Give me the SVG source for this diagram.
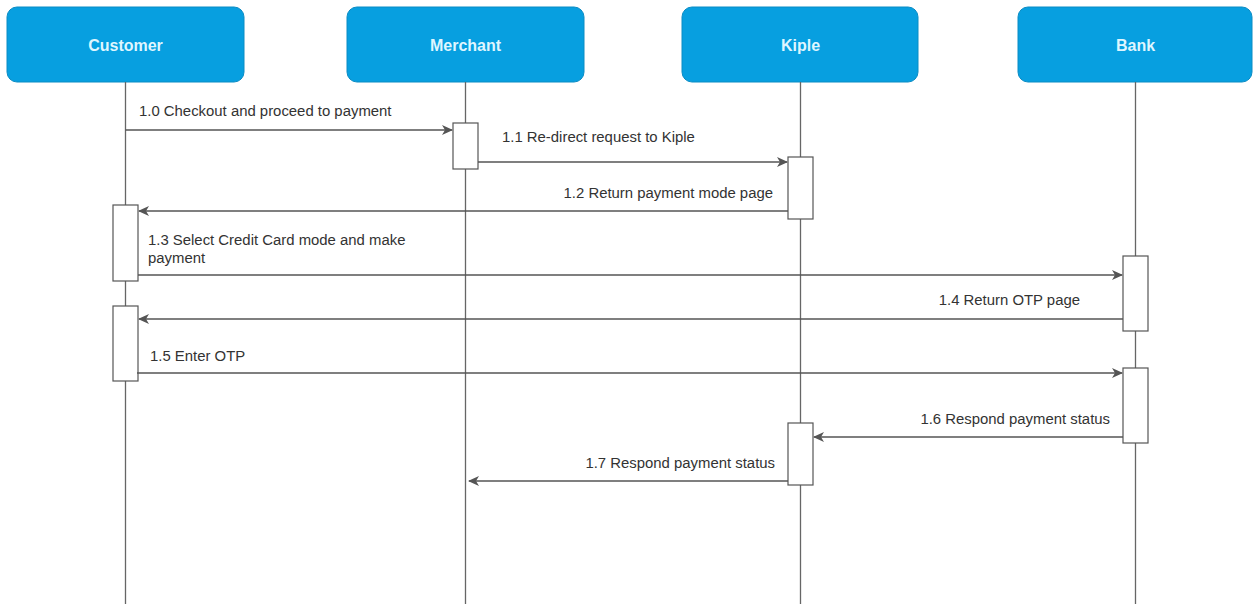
<svg xmlns="http://www.w3.org/2000/svg" width="1253" height="604" viewBox="0 0 1253 604">
<style>
.hdr{fill:#079fe0;stroke:#0b8cc4;stroke-width:1}
.hdrt{font-family:"Liberation Sans",Arial,sans-serif;font-size:16px;font-weight:bold;fill:#dff6ff;text-anchor:middle}
.life{stroke:#666;stroke-width:1.3;fill:none}
.act{fill:#fff;stroke:#555;stroke-width:1.2}
.msg{stroke:#555;stroke-width:1.3;fill:none;marker-end:url(#ah)}
.lbl{font-family:"Liberation Sans",Arial,sans-serif;font-size:14.9px;fill:#333}
.r{text-anchor:end}
</style>
<defs>
<marker id="ah" markerWidth="12" markerHeight="10" refX="10" refY="5" orient="auto" markerUnits="userSpaceOnUse">
<path d="M0,0 L11,5 L0,10 L3,5 Z" fill="#555"/>
</marker>
</defs>
<g id="customer">
<rect class="hdr" x="7" y="7" width="237" height="75" rx="10"/>
<text class="hdrt" x="125.5" y="51">Customer</text>
<line class="life" x1="125.5" y1="82" x2="125.5" y2="604"/>
<rect class="act" x="113" y="205" width="25" height="76"/>
<rect class="act" x="113" y="306" width="25" height="75"/>
</g>
<g id="merchant">
<rect class="hdr" x="347" y="7" width="237" height="75" rx="10"/>
<text class="hdrt" x="465.5" y="51">Merchant</text>
<line class="life" x1="465.5" y1="82" x2="465.5" y2="604"/>
<rect class="act" x="453" y="123" width="25" height="46"/>
</g>
<g id="kiple">
<rect class="hdr" x="682" y="7" width="236" height="75" rx="10"/>
<text class="hdrt" x="800.5" y="51">Kiple</text>
<line class="life" x1="800.5" y1="82" x2="800.5" y2="604"/>
<rect class="act" x="788" y="157" width="25" height="62"/>
<rect class="act" x="788" y="423" width="25" height="62"/>
</g>
<g id="bank">
<rect class="hdr" x="1018" y="7" width="234" height="75" rx="10"/>
<text class="hdrt" x="1135.5" y="51">Bank</text>
<line class="life" x1="1135.5" y1="82" x2="1135.5" y2="604"/>
<rect class="act" x="1123" y="256" width="25" height="75"/>
<rect class="act" x="1123" y="368" width="25" height="75"/>
</g>
<g id="connectors">
<line class="msg" x1="125.5" y1="130" x2="452" y2="130"/>
<text class="lbl" x="139" y="116">1.0 Checkout and proceed to payment</text>
<line class="msg" x1="478" y1="162" x2="787" y2="162"/>
<text class="lbl" x="502" y="142">1.1 Re-direct request to Kiple</text>
<line class="msg" x1="788" y1="211" x2="139" y2="211"/>
<text class="lbl r" x="773" y="198">1.2 Return payment mode page</text>
<line class="msg" x1="138" y1="275" x2="1122" y2="275"/>
<text class="lbl" x="148" y="245">1.3 Select Credit Card mode and make</text>
<text class="lbl" x="148" y="263">payment</text>
<line class="msg" x1="1123" y1="319" x2="139" y2="319"/>
<text class="lbl r" x="1080" y="305">1.4 Return OTP page</text>
<line class="msg" x1="137" y1="373" x2="1122" y2="373"/>
<text class="lbl" x="150" y="361">1.5 Enter OTP</text>
<line class="msg" x1="1123" y1="437" x2="814" y2="437"/>
<text class="lbl r" x="1110" y="424">1.6 Respond payment status</text>
<line class="msg" x1="788" y1="481" x2="469" y2="481"/>
<text class="lbl r" x="775" y="468">1.7 Respond payment status</text>
</g>
</svg>
